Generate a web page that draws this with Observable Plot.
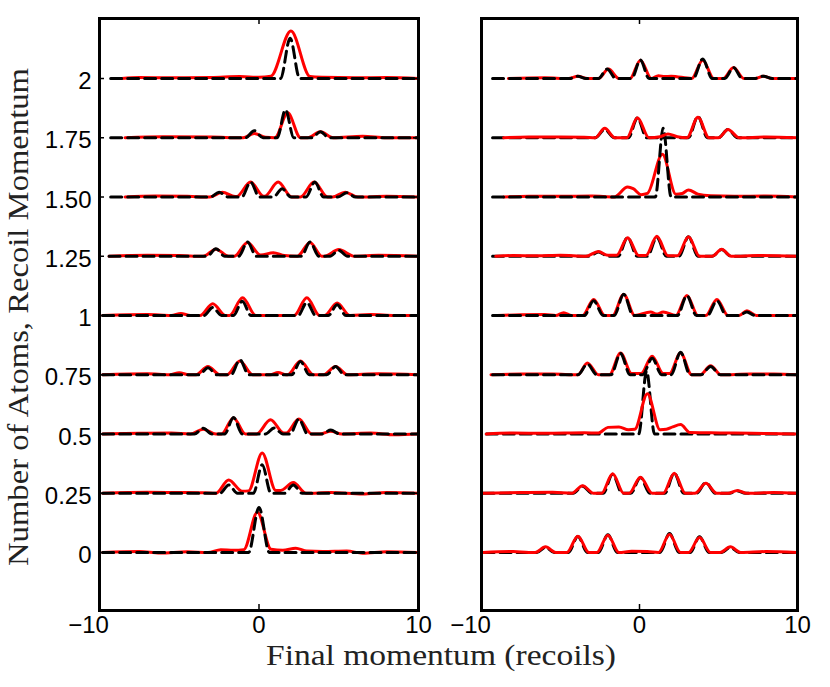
<!DOCTYPE html>
<html><head><meta charset="utf-8">
<script src="https://cdn.jsdelivr.net/npm/d3@7"></script>
<script src="https://cdn.jsdelivr.net/npm/@observablehq/plot@0.6"></script>
<style>
html,body{margin:0;padding:0;background:#fff;}
#chart{position:relative;width:830px;height:687px;overflow:hidden;}
#chart svg{position:absolute;top:0;}
</style></head>
<body><div id="chart"></div>
<script>
// ---- data ----
const levels = [0, 0.25, 0.5, 0.75, 1, 1.25, 1.5, 1.75, 2];
const yTickLabels = ["0", "0.25", "0.5", "0.75", "1", "1.25", "1.50", "1.75", "2"];
const xTicks = [-10, 0, 10];
const xTickLabels = ["\u221210", "0", "10"];
const xLabel = "Final momentum (recoils)";
const yLabel = "Number of Atoms, Recoil Momentum";

// key points [momentum, signal above the trace's offset], one list per offset level (0 ... 2)
const leftTheory = [
  [[-9.8,0],[-0.65,0],[0,0.19],[0.65,0],[10,0]],
  [[-9.8,0],[-2.45,0],[-1.9,0.035],[-1.35,0],[-0.35,0],[0.2,0.12],[0.75,0],[1.6,0],[2.15,0.035],[2.7,0],[10,0]],
  [[-9.8,0],[-4.05,0],[-3.5,0.024],[-2.95,0],[-2.15,0],[-1.6,0.07],[-1.05,0],[0.4,0],[0.95,0.025],[1.5,0],[1.95,0],[2.5,0.063],[3.05,0],[3.95,0],[4.5,0.017],[5.05,0],[10,0]],
  [[-9.8,0],[-3.75,0],[-3.2,0.03],[-2.65,0],[-1.75,0],[-1.2,0.063],[-0.65,0],[2.05,0],[2.6,0.056],[3.15,0],[4.25,0],[4.8,0.035],[5.35,0],[10,0]],
  [[-9.8,0],[-3.45,0],[-2.9,0.034],[-2.35,0],[-1.6,0],[-1.05,0.06],[-0.5,0],[2.45,0],[3.0,0.055],[3.55,0],[4.35,0],[4.9,0.045],[5.45,0],[10,0]],
  [[-9.4,0],[-3.25,0],[-2.7,0.032],[-2.15,0],[-1.27,0],[-0.72,0.06],[-0.17,0],[2.65,0],[3.2,0.06],[3.75,0],[4.45,0],[5.0,0.025],[5.55,0],[10,0]],
  [[-9.3,0],[-3.05,0],[-2.5,0.02],[-1.95,0],[-1.08,0],[-0.53,0.063],[0.02,0],[0.9,0],[1.45,0.035],[2.0,0],[2.95,0],[3.5,0.063],[4.05,0],[4.95,0],[5.5,0.018],[6.05,0],[10,0]],
  [[-9.3,0],[-0.85,0],[-0.3,0.03],[0.25,0],[1.14,0],[1.66,0.118],[2.18,0],[3.3,0],[3.85,0.025],[4.4,0],[10,0]],
  [[-9.3,0],[1.35,0],[1.95,0.17],[2.55,0],[10,0]]
];
const leftData = [
  [[-9.8,0],[-7.5,0.004],[-6.2,-0.002],[-4.5,0.003],[-3.2,0],[-2.4,0.012],[-1.6,0.009],[-0.95,0.012],[-0.1,0.17],[0.75,0.014],[1.5,0.01],[2.3,0.018],[3.0,0.006],[4.0,0.004],[5.5,0.006],[6.5,-0.003],[8.0,0.003],[10,0]],
  [[-9.8,0],[-7,0.004],[-5,0.003],[-3.5,0.002],[-2.7,0],[-1.9,0.056],[-1.05,0.008],[-0.65,0.01],[0.2,0.17],[1.05,0.012],[1.35,0.012],[2.15,0.045],[2.95,0],[4.5,0.003],[6.5,-0.003],[8,0.003],[10,0]],
  [[-9.8,0],[-7.5,0.003],[-5.5,0.004],[-4.3,0],[-3.5,0.02],[-2.7,0],[-2.35,0],[-1.6,0.068],[-0.85,0],[-0.15,0],[0.72,0.06],[1.55,0.004],[1.7,0.004],[2.5,0.063],[3.3,0],[3.8,0],[4.5,0.012],[5.2,0],[7,0.004],[8.5,-0.003],[10,0]],
  [[-9.8,0],[-7,0.004],[-5.6,0],[-5.0,0.008],[-4.4,0],[-3.95,0],[-3.2,0.035],[-2.45,0],[-2.0,0],[-1.2,0.058],[-0.4,0],[0.7,0],[1.2,0.01],[1.7,0],[1.8,0],[2.6,0.058],[3.4,0],[4.05,0],[4.8,0.035],[5.55,0],[7.5,0.004],[10,0]],
  [[-9.8,0],[-7,0.004],[-5.5,0],[-4.9,0.008],[-4.3,0],[-3.7,0],[-2.9,0.05],[-2.1,0],[-1.85,0],[-1.03,0.075],[-0.2,0],[2.2,0],[3.0,0.075],[3.8,0],[4.1,0],[4.9,0.053],[5.7,0],[7,0.004],[8.5,0],[10,0]],
  [[-9.4,0],[-7,0.004],[-5,0.003],[-3.5,0],[-2.7,0.03],[-1.9,0],[-1.55,0],[-0.72,0.058],[0.1,0.005],[0.9,0.015],[1.6,0.003],[2.4,0],[3.2,0.058],[3.95,0],[4.1,0],[5.0,0.028],[6.0,0],[7.5,0.004],[10,0]],
  [[-8.4,0],[-6.5,0.004],[-4.5,0.003],[-3.1,0],[-2.3,0.02],[-1.5,0.002],[-1.4,0.002],[-0.53,0.063],[0.3,0.003],[0.35,0.003],[1.2,0.063],[2.05,0],[2.6,0],[3.45,0.063],[4.3,0],[4.6,0],[5.4,0.02],[6.2,0],[8,0.003],[10,0]],
  [[-8.4,0],[-6,0.004],[-3,0.003],[-1.0,0],[-0.3,0.018],[0.4,0.002],[1.0,0],[1.8,0.105],[2.6,0],[3.05,0],[3.85,0.025],[4.65,0],[6.5,0.006],[8,0],[10,0]],
  [[-8.6,0],[-7.5,0.004],[-5.5,0.003],[-3,0.004],[-1.2,0.008],[0,0.005],[0.75,0.01],[2.0,0.2],[3.2,0.008],[4,0.005],[6,0.003],[8,0.004],[10,0]]
];
const rightTheory = [
  [[-9.9,0],[-6.5,0],[-5.95,0.022],[-5.4,0],[-4.5,0],[-3.9,0.068],[-3.3,0],[-2.6,0],[-2.0,0.075],[-1.4,0],[1.3,0],[1.9,0.08],[2.5,0],[3.2,0],[3.8,0.066],[4.4,0],[5.2,0],[5.75,0.022],[6.3,0],[10,0]],
  [[-9.9,0],[-4.2,0],[-3.6,0.03],[-3.0,0],[-2.3,0],[-1.7,0.08],[-1.1,0],[-0.55,0],[0.06,0.066],[0.65,0],[1.6,0],[2.2,0.085],[2.8,0],[3.6,0],[4.2,0.045],[4.8,0],[5.7,0],[6.2,0.01],[6.7,0],[10,0]],
  [[-9.7,0],[-0.05,0],[0.45,0.265],[0.95,0],[10,0]],
  [[-9.3,0],[-3.9,0],[-3.3,0.045],[-2.7,0],[-1.8,0],[-1.2,0.09],[-0.6,0],[0.2,0],[0.8,0.07],[1.4,0],[2.0,0],[2.6,0.095],[3.2,0],[3.9,0],[4.5,0.035],[5.1,0],[10,0]],
  [[-9.3,0],[-3.5,0],[-2.9,0.062],[-2.3,0],[-1.6,0],[-1.0,0.09],[-0.4,0],[2.4,0],[3.0,0.084],[3.6,0],[4.3,0],[4.9,0.062],[5.5,0],[6.3,0],[6.8,0.015],[7.3,0],[10,0]],
  [[-9.3,0],[-3.2,0],[-2.6,0.018],[-2.0,0],[-1.35,0],[-0.75,0.08],[-0.15,0],[0.5,0],[1.1,0.08],[1.7,0],[2.5,0],[3.1,0.082],[3.7,0],[4.6,0],[5.2,0.028],[5.8,0],[10,0]],
  [[-9.3,0],[1.0,0],[1.5,0.29],[2.0,0],[10,0]],
  [[-9.3,0],[-2.8,0],[-2.2,0.035],[-1.6,0],[-0.7,0],[-0.13,0.084],[0.45,0],[3.1,0],[3.7,0.09],[4.3,0],[5.0,0],[5.6,0.035],[6.2,0],[10,0]],
  [[-9.3,0],[-4.4,0],[-3.9,0.01],[-3.4,0],[-2.6,0],[-2.05,0.04],[-1.5,0],[-0.5,0],[0.06,0.078],[0.6,0],[3.4,0],[4.0,0.082],[4.6,0],[5.4,0],[5.95,0.046],[6.5,0],[7.3,0],[7.85,0.01],[8.4,0],[10,0]]
];
const rightData = [
  [[-9.9,0],[-8,0.004],[-7,0],[-6.6,0],[-5.95,0.024],[-5.3,0],[-4.6,0],[-3.9,0.069],[-3.2,0],[-2.7,0],[-2.0,0.073],[-1.3,0],[-0.5,0.005],[0.5,0.004],[1.2,0],[1.9,0.076],[2.6,0],[3.1,0],[3.8,0.063],[4.5,0],[5.1,0],[5.75,0.024],[6.4,0],[8,0.004],[10,0]],
  [[-9.9,0],[-7.5,0.003],[-5.5,0.004],[-4.3,0],[-3.6,0.032],[-2.9,0],[-2.4,0],[-1.7,0.082],[-1.0,0],[-0.65,0],[0.06,0.068],[0.8,0],[1.5,0],[2.2,0.084],[2.9,0],[3.5,0],[4.2,0.042],[4.9,0],[5.6,0],[6.2,0.012],[6.8,0],[8.5,0.003],[10,0]],
  [[-9.7,0],[-8,0.004],[-6,0.003],[-3.5,0.005],[-2.6,0.004],[-2.0,0.028],[-1.3,0.03],[-0.7,0.018],[-0.3,0.02],[0.5,0.17],[1.3,0.018],[1.7,0.02],[2.1,0.03],[2.6,0.04],[3.2,0.006],[4.5,0.005],[6,0.004],[8,0.002],[10,0]],
  [[-9.4,0],[-7.5,0.003],[-5.5,0.003],[-3.9,0],[-3.3,0.05],[-2.6,0],[-1.9,0],[-1.2,0.092],[-0.5,0.005],[0.1,0.005],[0.8,0.078],[1.5,0.005],[1.9,0.005],[2.6,0.092],[3.3,0],[3.85,0],[4.5,0.038],[5.15,0],[7,0.003],[8.5,0.003],[10,0]],
  [[-9.0,0],[-7.5,0.003],[-6,0.004],[-5.3,0],[-4.8,0.012],[-4.3,0],[-3.6,0],[-2.9,0.068],[-2.2,0],[-1.7,0],[-1.0,0.089],[-0.3,0],[0.7,0.015],[1.1,0.006],[1.5,0.015],[2.3,0],[3.0,0.084],[3.7,0],[4.2,0],[4.9,0.068],[5.6,0],[6.3,0],[6.8,0.02],[7.4,0],[10,0]],
  [[-9.1,0],[-8,0.003],[-6.5,0.002],[-5,0.004],[-3.4,0],[-2.6,0.02],[-2.0,0.004],[-1.45,0.004],[-0.75,0.078],[-0.05,0.003],[0.4,0.003],[1.1,0.084],[1.8,0.002],[2.4,0.002],[3.1,0.082],[3.8,0],[4.6,0],[5.2,0.03],[5.8,0],[7.5,0.003],[10,0]],
  [[-8.6,0],[-7,0.003],[-5,0.003],[-3,0.004],[-1.6,0],[-0.75,0.042],[-0.4,0.035],[0.1,0.01],[0.5,0.015],[1.45,0.18],[2.3,0.012],[2.7,0.015],[3.1,0.03],[3.7,0.012],[4.5,0.005],[6,0.003],[8,0.004],[10,0]],
  [[-8.6,0],[-7,0.003],[-5,0.003],[-3.5,0.002],[-2.8,0],[-2.2,0.04],[-1.55,0],[-0.8,0],[-0.13,0.084],[0.6,0],[1.3,0.004],[1.8,0.016],[2.4,0.004],[3.0,0],[3.7,0.087],[4.4,0],[5.0,0],[5.6,0.035],[6.3,0],[8,0.003],[10,0]],
  [[-8.3,0],[-6,0.003],[-4.5,0],[-3.9,0.01],[-3.3,0],[-2.6,0],[-1.96,0.04],[-1.3,0],[-0.6,0],[0.06,0.077],[0.75,0],[1.2,0.012],[1.6,0.008],[2.0,0.01],[3.3,0],[4.0,0.077],[4.7,0],[5.3,0],[5.95,0.046],[6.6,0],[7.3,0],[7.85,0.01],[8.4,0],[10,0]]
];
// offsets in the right panel whose dashed theory line lies over the data line
const rightTheoryOnTop = [0.75, 1, 1.5, 2];

// ---- drawing ----
const sansFont = "'Liberation Sans', Arial, Helvetica, sans-serif";
const serifFont = "'Liberation Serif', 'Times New Roman', serif";
const yDomain = [-0.2447, 2.2532];
const H = 650, MT = 18, MB = 40;

function toRows(traces) {
  return traces.flatMap((pts, i) => pts.map(([x, s]) => ({level: levels[i], x, y: levels[i] + s})));
}

function panel({theory, data, theoryOnTop, showY, width, marginLeft, marginRight}) {
  const th = toRows(theory), da = toRows(data);
  const fw = width - marginLeft - marginRight, fh = H - MT - MB;
  const redLine = (rows) => Plot.line(rows, {x: "x", y: "y", z: "level", stroke: "#ff0000", strokeWidth: 3,
    curve: "monotone-x", strokeLinejoin: "round", clip: true});
  const blackLine = Plot.line(th, {x: "x", y: "y", z: "level", stroke: "#000", strokeWidth: 3,
    strokeDasharray: "11,6", curve: "monotone-x", clip: true});
  const under = da.filter(d => theoryOnTop.includes(d.level));
  const over = da.filter(d => !theoryOnTop.includes(d.level));
  const marks = [
    redLine(under),
    blackLine,
    redLine(over),
    Plot.tickX([0], {x: d => d, insetBottom: fh - 6, strokeWidth: 1.5}),
    Plot.tickX([0], {x: d => d, insetTop: fh - 6, strokeWidth: 1.5}),
    Plot.text(xTicks.filter(d => d < 0), {x: d => d, frameAnchor: "bottom", lineAnchor: "top", dy: 5, dx: -11,
      text: d => xTickLabels[xTicks.indexOf(d)], fontSize: 24, fontFamily: sansFont, fill: "#000"}),
    Plot.text(xTicks.filter(d => d >= 0), {x: d => d, frameAnchor: "bottom", lineAnchor: "top", dy: 5,
      text: d => xTickLabels[xTicks.indexOf(d)], fontSize: 24, fontFamily: sansFont, fill: "#000"}),
    Plot.frame({stroke: "#000", strokeWidth: 3})
  ];
  if (showY) {
    marks.push(
      Plot.tickY(levels, {y: d => d, insetRight: fw - 5, strokeWidth: 1.5}),
      Plot.tickY(levels, {y: d => d, insetLeft: fw - 5, strokeWidth: 1.5}),
      Plot.text(levels, {y: d => d, frameAnchor: "left", textAnchor: "end", dx: -8, dy: 3,
        text: (d, i) => yTickLabels[i], fontSize: 24, fontFamily: sansFont, fill: "#000"})
    );
  }
  return Plot.plot({
    width, height: H, marginTop: MT, marginBottom: MB, marginLeft, marginRight,
    x: {domain: [-10, 10], axis: null},
    y: {domain: yDomain, axis: null},
    style: {background: "transparent", overflow: "visible"},
    marks
  });
}

const chart = document.getElementById("chart");
const left = panel({theory: leftTheory, data: leftData, theoryOnTop: levels, showY: true,
  width: 440, marginLeft: 99, marginRight: 22});
left.style.left = "0px";
const right = panel({theory: rightTheory, data: rightData, theoryOnTop: rightTheoryOnTop, showY: false,
  width: 390, marginLeft: 41, marginRight: 33});
right.style.left = "440px";
chart.appendChild(left);
chart.appendChild(right);

// shared axis titles
const svgNS = "http://www.w3.org/2000/svg";
const lab = document.createElementNS(svgNS, "svg");
lab.setAttribute("width", 830); lab.setAttribute("height", 687);
lab.style.left = "0px"; lab.style.pointerEvents = "none";
function addText(str, attrs) {
  const t = document.createElementNS(svgNS, "text");
  for (const k in attrs) t.setAttribute(k, attrs[k]);
  t.textContent = str;
  lab.appendChild(t);
}
addText(xLabel, {x: 441, y: 665, "text-anchor": "middle", "font-family": serifFont, "font-size": 30,
  textLength: 350, lengthAdjust: "spacingAndGlyphs", fill: "#222"});
addText(yLabel, {transform: "translate(28,317) rotate(-90)", "text-anchor": "middle", "font-family": serifFont,
  "font-size": 30, textLength: 498, lengthAdjust: "spacingAndGlyphs", fill: "#222"});
chart.appendChild(lab);
</script>
</body></html>
